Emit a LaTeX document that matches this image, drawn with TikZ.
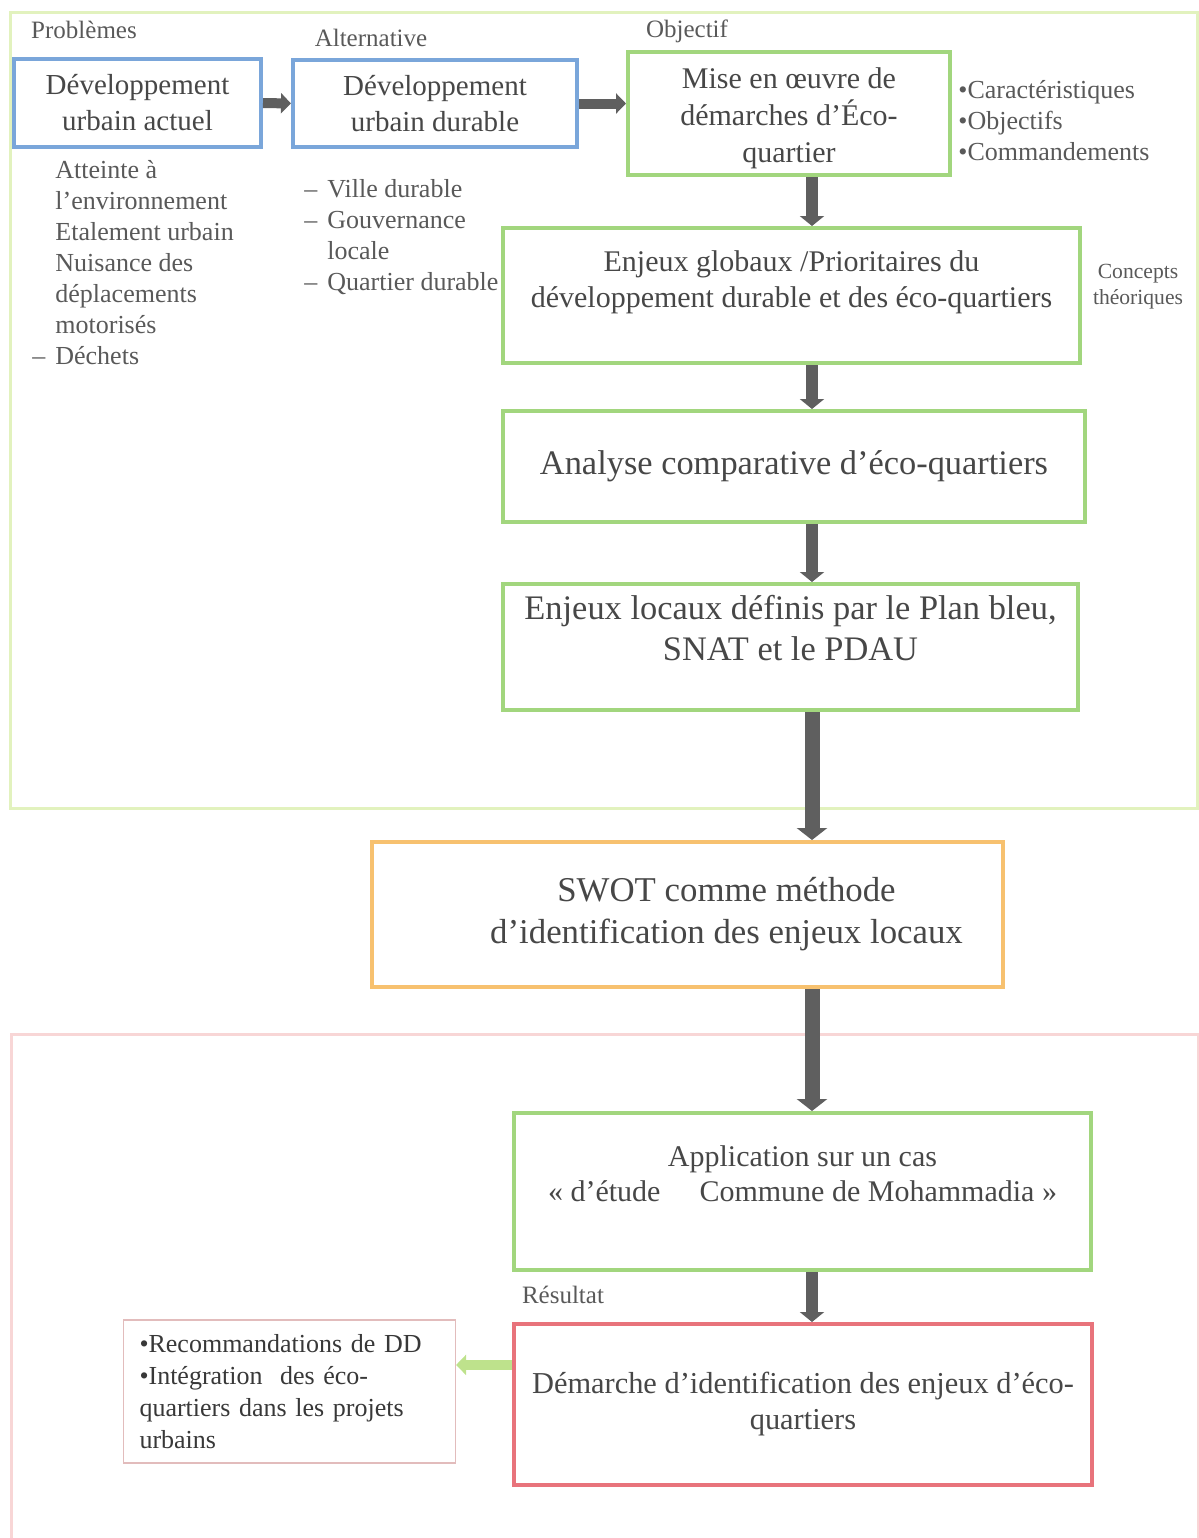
\documentclass[tikz,border=0pt]{standalone}
\usepackage{fontspec}
\setmainfont{Liberation Serif}
\usetikzlibrary{arrows.meta,calc}

\definecolor{boxblue}{RGB}{122,166,218}
\definecolor{boxgreen}{RGB}{162,214,126}
\definecolor{boxorange}{RGB}{247,193,111}
\definecolor{boxred}{RGB}{232,115,123}
\definecolor{frameGreen}{RGB}{226,242,190}
\definecolor{frameRed}{RGB}{248,214,214}
\definecolor{recoEdge}{RGB}{226,188,188}
\definecolor{arrowGrey}{RGB}{95,95,95}
\definecolor{arrowGreen}{RGB}{190,226,140}

\begin{document}
\begin{tikzpicture}[x=0.5pt,y=-0.5pt]
				\tikzset{
						boxsize/.style 2 args={minimum width=#1*0.5pt, minimum height=#2*0.5pt},
						box/.style={draw, line width=2pt, align=center, inner sep=0pt, text=black!72,
							font=\fontsize{14.5}{18}\selectfont},
						bluebox/.style={box, draw=boxblue},
						greenbox/.style={box, draw=boxgreen},
						orangebox/.style={box, draw=boxorange},
						redbox/.style={box, draw=boxred},
						tag/.style={text=black!65, font=\fontsize{12.5}{15}\selectfont},
						note/.style={text=black!65, inner sep=0pt, font=\fontsize{13}{15.5}\selectfont},
						flow/.style={draw=arrowGrey, line width=5pt, -{Triangle[width=10pt,length=5pt]}},
						vflow/.style={draw=arrowGrey, line width=6pt, -{Triangle[width=12pt,length=5pt]}},
						bigflow/.style={draw=arrowGrey, line width=7.5pt, -{Triangle[width=15pt,length=6pt]}},
						backflow/.style={draw=arrowGreen, line width=5pt, -{Triangle[width=10pt,length=5pt]}}
				}
				\useasboundingbox (0,0) rectangle (1199,1538);
				
				%% FRAMES
				\draw[frameGreen, line width=1.5pt] (10,12) rectangle (1197,808);
				\draw[frameRed, line width=1.5pt] (11,1034) rectangle (1198,1550);
				
				%% TOP ROW
				\node[tag] (lblProb) at (84,30) {Problèmes};
				\node[tag] (lblAlt) at (371,38) {Alternative};
				\node[tag] (lblObj) at (687,31) {Objectif};
				
				\node[bluebox, boxsize={247}{88}] (urbActuel) at (137.5,103) {Développement\\urbain actuel};
				\node[bluebox, boxsize={284}{87}] (urbDurable) at (435,103.5) {Développement\\urbain durable};
				\node[greenbox, boxsize={322}{123}, font=\fontsize{15}{18.5}\selectfont] (ecoObjectif) at (789,113.5)
				{\rule{0pt}{15pt}Mise en œuvre de\\démarches d’Éco-\\quartier};
				
				\node[note, anchor=west, align=left] (caract) at (958,121)
				{•Caractéristiques\\•Objectifs\\•Commandements};
				\node[note, anchor=west, align=left] (probList) at (55,263)
				{Atteinte à\\l’environnement\\Etalement urbain\\Nuisance des\\déplacements\\motorisés\\\llap{–\hspace{5pt}}Déchets};
				\node[note, anchor=west, align=left] (altList) at (327,237.5)
				{\llap{–\hspace{5pt}}Ville durable\\\llap{–\hspace{5pt}}Gouvernance\\locale\\\llap{–\hspace{5pt}}Quartier durable};
				
				%% MAIN COLUMN
				\coordinate (spine) at (812,0);
				\node[greenbox, boxsize={577}{135}, font=\fontsize{15}{18}\selectfont] (globaux) at (791.5,295.5)
				{Enjeux globaux /Prioritaires du\\développement durable et des éco-quartiers\\[-7pt]\strut};
				\node[note, align=center, font=\fontsize{10.8}{13}\selectfont] (concepts) at (1138,287) {Concepts\\théoriques};
				\node[greenbox, boxsize={582}{111}, font=\fontsize{17.2}{20}\selectfont] (analyse) at (794,466.5)
				{Analyse comparative d’éco-quartiers};
				\node[greenbox, boxsize={575}{126}, font=\fontsize{17.2}{20.5}\selectfont] (locaux) at (790.5,647)
				{Enjeux locaux définis par le Plan bleu,\\SNAT et le PDAU\\[-8pt]\strut};
				\node[orangebox, boxsize={631}{145}, font=\fontsize{17.4}{21}\selectfont] (swot) at (687.5,914.5)
				{\hspace*{39pt}SWOT comme méthode\\\hspace*{39pt}d’identification des enjeux locaux};
				\node[greenbox, boxsize={577}{157}, font=\fontsize{15}{17.5}\selectfont] (application) at (802.5,1191.5)
				{Application sur un cas\\« d’étude\hspace{1.3em}Commune de Mohammadia »\\[-5pt]\strut};
				
				%% RESULT
				\node[tag] (lblRes) at (563,1295) {Résultat};
				\node[redbox, boxsize={578}{161}, font=\fontsize{15.2}{18}\selectfont] (demarche) at (803,1404.5)
				{Démarche d’identification des enjeux d’éco-\\quartiers};
				\node[draw=recoEdge, line width=0.6pt, align=left, text width=150pt, inner xsep=8pt, minimum height=71.5pt,
				text=black!78, font=\fontsize{13}{16}\selectfont] (reco) at (289.5,1391.5)
				{•Recommandations de DD\\•Intégration\ \ des éco-\\quartiers dans les projets\\urbains};
				
				%% ARROWS
				\draw[flow] (urbActuel.east) -- (urbDurable.west);
				\draw[flow] (urbDurable.east) -- (urbDurable.east -| ecoObjectif.west);
				\draw[vflow] (ecoObjectif.south -| spine) -- (globaux.north -| spine);
				\draw[vflow] (globaux.south -| spine) -- (analyse.north -| spine);
				\draw[vflow] (analyse.south -| spine) -- (locaux.north -| spine);
				\draw[bigflow] (locaux.south -| spine) -- (swot.north -| spine);
				\draw[bigflow] (swot.south -| spine) -- (application.north -| spine);
				\draw[vflow] (application.south -| spine) -- (demarche.north -| spine);
				\coordinate (outRes) at ($(demarche.north west)!0.26!(demarche.south west)$);
				\draw[backflow] (outRes) -- (outRes -| reco.east);
				
\end{tikzpicture}
\end{document}
